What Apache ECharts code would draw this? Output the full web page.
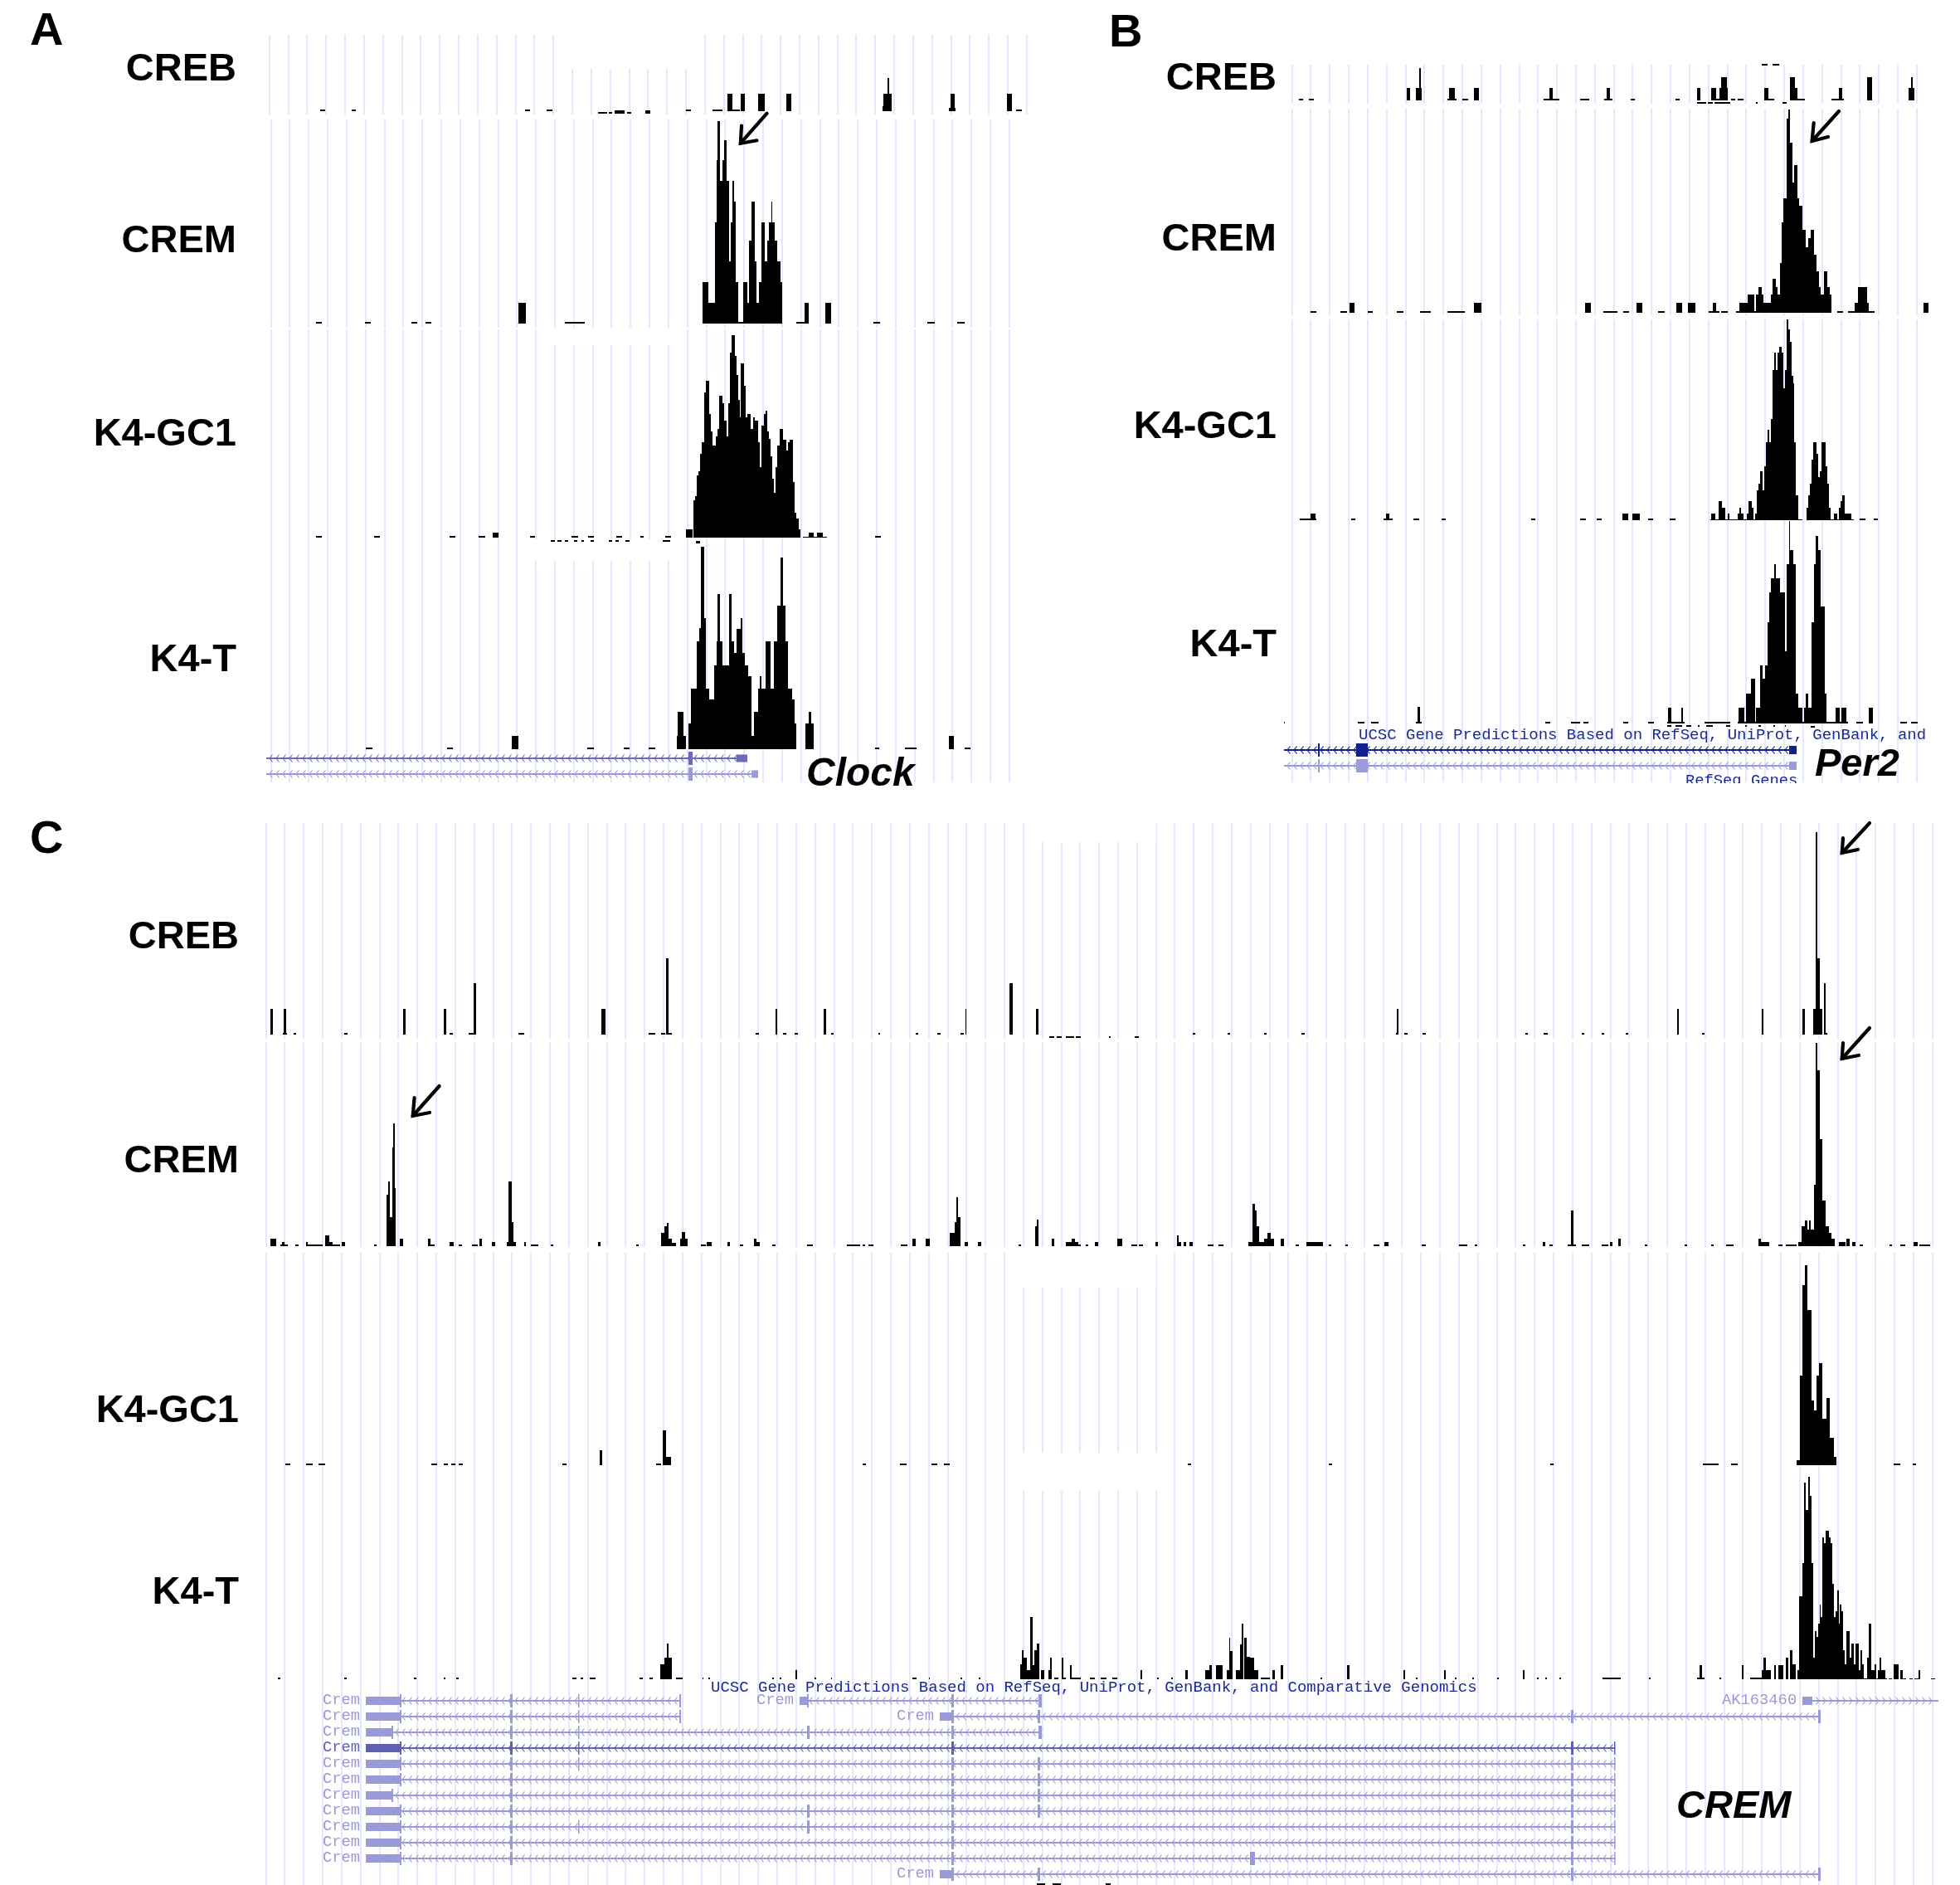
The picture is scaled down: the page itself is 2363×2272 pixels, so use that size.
<!DOCTYPE html>
<html><head><meta charset="utf-8">
<style>html,body{margin:0;padding:0;background:#fff}#c{width:2363px;height:2272px}</style>
<script src="https://cdn.jsdelivr.net/npm/echarts@6/dist/echarts.min.js"></script>
</head><body><div id="c"></div>
<script>
// Runs are [start, end, top] or [start, end, top, bottom], or [start, end] for a minimal read pile-up.
const trackNames = ['CREB','CREM','K4-GC1','K4-T'];

const A1_runs = [[140,150],[203,211],[543,553],[587,597],[860,870],[913,932],[687,705,404,412],[708,716,404,412],[720,740,400,412],[745,752,405,412],[780,790,400,412],
 [942,952,340],[952,966],[968,976,340],[1003,1016,340],[1059,1068,340],[1248,1266,385],[1250,1265,340],[1257,1260,283],[1379,1392,390],[1382,1389,340],[1493,1503,340],[1510,1522]];
const A2_runs = [[132,144],[228,240],[320,332],[348,360],[531,545,1095],[622,662],[893,1050],
 [893,904,1020],[904,917,1095],[917,921,803],[921,923,580],[923,927,438],[927,932,655],[932,936,580],[936,941,507],[941,945,655],[945,948,945],[948,952,803],[952,956,655],[956,959,730],[959,963,1020],
 [973,982,1020],[982,985,1095],[985,990,870],[990,996,730],[996,1000,945],[1000,1005,1095],[1005,1009,1020],[1009,1015,803],[1015,1020,945],[1020,1024,870],[1024,1028,803],[1028,1031,730],[1031,1035,803],[1035,1040,870],[1040,1046,945],[1046,1050,1020],
 [1078,1095],[1094,1102,1095],[1135,1147,1095],[1230,1242],[1336,1350],[1395,1410]];
const A3_left = [[133,143],[246,258],[395,407],[453,466],[480,492,425],[553,564],[635,648],[668,680],[723,735],[770,778],[820,832],[595,603,452,458],[608,616,452,458],[622,628,452,458],[640,646,452,458],[655,660,452,458],[672,680,452,458],[708,716,452,458],[722,728,452,458],[742,750,452,458],[815,830,452,458],[880,888,455,465],[1233,1245]];
const A3_peak = [[20,45,715],[48,54,610],[54,60,595],[60,67,520],[67,73,503],[73,79,440],[79,87,400],[87,93,220],[93,105,178],[105,111,298],[111,117,360],[117,129,412],[129,135,378],[135,141,350],[141,152,230],[152,160,258],[160,168,320],[168,174,378],[174,180,258],[180,186,75],[186,197,12],[197,203,88],[203,209,155],[209,215,245],[215,220,310],[220,230,115],[230,236,195],[236,242,310],[242,254,298],[254,265,350],[265,271,310],[271,283,320],[283,289,400],[289,295,490],[295,303,340],[303,309,298],[309,316,285],[316,322,360],[322,328,388],[328,334,450],[334,340,530],[340,345,583],[345,351,490],[351,361,412],[361,373,350],[373,384,390],[384,390,430],[390,396,400],[396,407,390],[407,413,543],[413,419,655],[419,430,675],[430,436,715],[443,532,742],[465,482,725],[495,517,725]];
const A4_runs = [[230,243],[390,402],[667,680],[738,750],[787,800],[518,530,1162],[842,860,1160],[845,855,1075],[866,870,1115],[870,882,990],[882,886,820],[886,890,770],[890,897,478],[897,900,735],[900,906,990],[906,916,1030],[916,921,905],[921,923,820],[923,927,648],[927,933,820],[933,945,905],[945,950,648],[950,955,820],[955,960,860],[960,968,775],[968,972,735],[972,977,860],[977,983,905],[983,989,945],[989,995,1160],[995,1003,1075],[1003,1006,990],[1006,1009,945],[1009,1017,990],[1017,1027,820],[1027,1033,990],[1033,1040,820],[1040,1047,690],[1047,1052,517],[1052,1057,690],[1057,1062,820],[1062,1070,990],[1070,1075,1030],[1075,1078,1115],[1096,1103,1115],[1103,1107,1075],[1107,1112,1115],[1233,1241],[1292,1315],[1378,1388,1162],[1410,1420]];

const B1_runs = [[50,60],[73,84],[298,305,318],[318,332,318],[325,329,245],[390,412],[395,408,318],[425,438],[452,462,318],[612,648],[625,633,318],[695,716],[750,770],[757,763,318],[812,822],[914,923],[963,972,318],[997,1008,318],[1008,1020],[1015,1035,318],[1020,1032,280],[1042,1052],[1057,1070],[1118,1128,318],[1128,1142],[1178,1188,280],[1188,1195,318],[1195,1212],[1272,1302],[1290,1297,318],[1355,1365,280],[1450,1463,318],[1455,1459,280],
 [963,985,368,374],[988,1000,368,374],[1003,1040,368,374],[1160,1170,368,374],[1100,1103,368,374],[1112,1125,232,238],[1138,1152,232,238]];
const B2_runs = [[77,90],[145,160],[207,220],[275,290],[327,352],[390,430],[748,782],[795,808],[875,890],[990,1015],[1020,1035],[1053,1272],[1285,1300],[1310,1372],
 [165,178,1095],[452,468,1095],[707,720,1095],[825,838,1095],[917,930,1095],[943,960,1095],[1000,1007,1095],[1062,1080,1095],[1080,1095,1065],[1100,1104,1065],[1104,1112,1037],[1112,1116,1065],[1116,1134,1095],[1134,1138,1065],[1138,1144,1008],[1144,1148,1037],[1148,1155,1065],[1155,1159,950],[1159,1163,805],[1163,1170,718],[1170,1173,430],[1173,1178,397],[1178,1183,515],[1183,1187,660],[1187,1195,597],[1195,1198,718],[1198,1206,745],[1206,1214,830],[1214,1220,895],[1220,1224,860],[1224,1232,830],[1232,1238,922],[1238,1244,980],[1244,1248,1037],[1248,1255,1065],[1255,1263,980],[1263,1268,1037],[1268,1272,1065],[1325,1333,1095],[1333,1355,1037],[1355,1358,1095],[1484,1496,1095]];
const B3_left = [[52,90],[77,88,357],[170,180],[243,265],[250,257,357],[313,325],[377,387],[583,593],[695,709],[733,745],[793,805,357],[815,833,357],[852,863],[902,915],[1338,1350],[1370,1380]];
const B3_peak = [[5,340,739],[353,525,739],[8,25,717],[37,47,672],[47,59,695],[69,75,717],[105,111,717],[111,116,695],[116,127,717],[138,145,717],[145,155,672],[155,162,695],[168,174,717],[174,180,632],[180,186,608],[186,196,563],[196,202,632],[202,208,545],[208,213,460],[213,219,415],[219,225,460],[225,231,375],[231,237,198],[237,243,135],[243,248,198],[248,254,135],[254,265,113],[265,271,135],[271,276,265],[276,282,198],[282,288,15],[288,294,50],[294,300,95],[300,306,220],[306,310,245],[310,316,460],[316,325,650],[353,360,695],[360,367,650],[367,373,608],[373,379,522],[379,390,460],[390,396,500],[396,402,585],[402,407,563],[407,424,460],[424,430,545],[430,436,608],[436,442,695],[453,465,717],[470,476,695],[476,482,672],[482,493,650],[493,515,717]];
const B4_runs = [[15,18],[185,200],[215,232],[318,332],[322,328,1057],[615,627],[675,695],[703,715],[795,805],[852,865],[895,935],[897,905,1058],[927,931,1058],[982,1040],[1057,1310],[1060,1072,1058],[1077,1087,1008],[1087,1097,955],[1100,1108,1058],[1108,1115,905],[1115,1120,955],[1120,1126,905],[1126,1130,750],[1130,1134,642],[1134,1141,590],[1141,1145,540],[1145,1155,590],[1155,1166,642],[1166,1170,855],[1170,1175,540],[1175,1178,385],[1178,1185,490],[1185,1190,540],[1190,1196,1008],[1196,1206,1058],[1210,1214,1058],[1214,1220,1008],[1220,1226,1058],[1226,1232,750],[1232,1236,540],[1236,1243,437],[1243,1247,490],[1247,1258,693],[1258,1262,1008],[1282,1292,1058],[1296,1306,1058],[1330,1345],[1358,1368,1058],[1430,1445],[1455,1470],
 [895,905,1122,1128],[915,930,1122,1128],[940,950,1122,1128],[965,970,1122,1128],[985,1000,1122,1128],[1030,1040,1122,1128],[1225,1235,1124,1130],[1075,1078,1122,1128],[1105,1110,1122,1128],[1140,1143,1122,1128],[1165,1168,1122,1128]];

const C1_left = [[40,45,647],[66,70,647],[65,72],[85,90],[180,186],[291,296,647],[368,373,647],[380,386],[416,425],[425,430,555],[510,520],[666,674,647],[755,768],[780,787],[789,794,465],[794,800],[958,964],[996,999,647],[1010,1016],[1032,1038],[1087,1092,647],[1100,1106],[1190,1193],[1260,1265],[1302,1307],[1345,1352],[1355,1357,647],[1438,1444,555],[1488,1493,647],[1513,1522,746,752],[1527,1537,746,752],[1545,1560,746,752],[1563,1568,746,752]];
const C1_right = [[0,5,746,752],[55,57,746,752],[100,107,746,752],[203,208],[265,270],[330,335],[397,402],[565,570],[567,569,647],[580,585],[612,618],[795,800],[828,835],[895,900],[930,935],[973,978],[1065,1068,647],[1109,1114],[1215,1219,647],[1288,1292,647],[1307,1323,647],[1311,1314,8],[1314,1318,465],[1326,1329,555],[1329,1332]];
const C2_left = [[40,52,1480],[60,73],[62,68,1490],[88,94],[108,140],[108,112,1490],[145,152,1468],[152,158,1490],[158,172],[176,182,1490],[237,242],[260,263,1320],[263,266,1273],[266,272,1400],[272,273,1150],[273,276,1063],[276,278,1297],[285,291,1480],[338,344,1480],[344,352],[380,387,1490],[397,403],[422,432],[436,440,1480],[460,465,1490],[487,505,1490],[490,497,1273],[497,500,1420],[520,524,1490],[533,547],[570,575],[660,665,1490],[732,737],[780,785,1457],[785,790,1435],[790,793,1423],[793,800,1480],[800,808,1495],[815,819,1480],[819,824,1455],[824,830,1480],[855,864],[865,875,1490],[905,910,1490],[928,934],[955,960,1480],[960,966,1490],[990,995],[1055,1066],[1131,1155],[1160,1165],[1172,1181],[1233,1245],[1255,1260,1480],[1280,1287,1480],[1325,1335,1457],[1335,1338,1420],[1338,1341,1330],[1341,1345,1400],[1353,1359,1490],[1378,1384,1490],[1455,1460],[1486,1489,1435],[1489,1492,1410],[1518,1523,1480],[1545,1568,1490],[1555,1562,1480]];
const C2_right = [[0,5],[13,18],[30,36,1490],[70,78,1480],[95,105],[108,115],[137,141,1490],[175,178,1468],[178,183,1490],[187,192,1490],[197,203,1490],[230,240],[250,258],[303,310,1490],[310,314,1353],[314,317,1378],[317,322,1435],[322,330,1490],[330,336,1480],[336,342,1457],[342,348,1480],[360,366,1480],[387,393],[405,417,1490],[417,435,1490],[445,450],[475,480],[525,535],[545,552,1490],[610,618],[677,692],[705,710],[790,795],[826,830,1490],[838,844],[870,885],[876,880,1376],[895,908],[930,942],[945,950,1490],[960,965,1480],[1008,1012],[1078,1083],[1125,1130],[1152,1165],[1210,1214,1480],[1214,1228,1490],[1245,1252],[1258,1278],[1280,1286,1490],[1286,1292,1435],[1292,1296,1412],[1296,1300,1445],[1300,1303,1412],[1303,1308,1445],[1308,1311,1285],[1311,1314,772],[1314,1318,870],[1318,1323,1120],[1323,1329,1342],[1329,1335,1435],[1335,1340,1457],[1340,1345,1480],[1353,1358,1490],[1358,1364,1490],[1366,1372,1480],[1376,1382,1490],[1390,1396],[1442,1447],[1462,1470],[1485,1492,1490],[1495,1515]];
const C3_runs = [[228,232],[245,250],[255,260],[345,350],[355,358],[361,364],[367,370],[450,453],[480,482,1160],[525,529],[530,533,1144],[533,537,1165],[690,693],[720,725],[745,750],[755,760],[950,953],[1063,1066],[1240,1243],[1362,1375],[1385,1390],[1437,1440,1168],[1440,1442,1100],[1442,1444,1028],[1444,1446,1012],[1446,1449,1048],[1449,1451,1120],[1451,1453,1128],[1453,1455,1100],[1455,1458,1090],[1458,1461,1135],[1461,1464,1118],[1464,1467,1150],[1467,1469,1165],[1515,1520],[1530,1533]];
const C4_left = [[55,60],[180,185],[312,317],[368,372],[392,396],[612,620],[627,632],[645,655],[738,745],[757,763],[778,785,678],[785,790,655],[790,794,603],[794,800,655],[808,820],[857,860],[868,872],[990,993],[1003,1006],[1033,1037,700],[1070,1073],[1100,1103],[1255,1262],[1285,1288],[1345,1348],[1380,1383],[1458,1462,678],[1462,1465,628],[1465,1470,655],[1470,1477,700],[1477,1481,508],[1481,1485,680],[1485,1490,628],[1490,1494,604],[1497,1503,700],[1512,1518,700],[1515,1518,655],[1523,1530],[1537,1540,655],[1540,1545],[1552,1555,680],[1555,1568,725],[1490,1505,1470,1476],[1520,1535,1470,1476]];
const C4_right = [[0,5],[20,30],[40,50],[60,70],[110,114,700],[140,143],[165,168],[190,194,700],[225,238,700],[233,238,680],[245,255,680],[250,256,680],[264,268,700],[268,270,582],[270,275,630],[280,287,700],[287,291,605],[291,293,530],[295,300,582],[300,305,650],[305,312,655],[312,320,700],[325,340],[345,350,700],[360,364,680],[430,433],[478,482,680],[578,581,700],[600,603],[650,654,700],[670,673],[700,703],[745,748],[790,794,700],[815,818],[830,833],[855,858],[932,965],[1015,1018],[1105,1109,680],[1100,1113],[1140,1143],[1180,1183,680],[1195,1215],[1215,1218,700],[1218,1223,655],[1223,1232,700],[1237,1241,680],[1245,1254,680],[1258,1262,655],[1266,1270,628],[48,58,1470,1476]];
const C4_peak = [[0,15,678],[22,27,700],[27,39,433],[39,45,313],[45,50,22],[50,60,120],[60,66,0],[66,72,70],[72,78,313],[78,84,655],[84,90,558],[90,96,580],[96,102,530],[102,106,462],[106,112,508],[112,118,218],[118,123,240],[123,134,195],[134,140,218],[140,146,240],[146,152,388],[152,158,508],[158,164,485],[164,170,410],[170,175,530],[175,181,462],[181,187,485],[187,192,628],[192,198,678],[198,209,558],[209,215,655],[215,226,604],[226,231,678],[231,243,604],[243,248,700],[248,254,628],[254,260,678],[260,272,728],[272,278,655],[278,289,530],[289,301,700],[301,306,678],[306,312,728],[312,318,700],[318,323,655],[323,340,700],[340,346,728],[350,362,728],[369,386,678],[392,403,700],[403,414,728],[427,437,728],[445,460,728],[460,466,700],[505,518,728]];

// Gene models: row, start, end, strand, exons as [start, end, height]
const mid = 6, tall = 16;
const clockGenes = [
 {row:913,from:321,to:900,dir:-1,color:'#6a6ab8',exons:[[830,835,tall],[888,901,mid+3]]},
 {row:932,from:321,to:914,dir:-1,color:'#9a9ad8',exons:[[830,835,tall],[906,914,mid+3]]}];
const per2Genes = [
 {row:903,from:1548,to:2166,dir:-1,color:'#10208c',exons:[[1589,1591,tall],[1635,1649,tall],[2157,2166,10]]},
 {row:922,from:1548,to:2166,dir:-1,color:'#9a9cdc',exons:[[1589,1591,tall],[1635,1649,tall],[2157,2166,10]]}];
const LONG = 1947.5, SHORT = 2193.5;
const cremColor = '#9a9ad8', cremDark = '#6060b0';
const e = (a,w) => [a, a+(w||3), tall];
const head = [[441,482,10],[482,484,tall]], headShort = [[441,472,10],[472,474,tall]];
const cremGenes = [
 {row:2049,from:441,to:820,dir:-1,color:cremColor,label:['Crem',389],exons:[...head,e(615),e(697,1.5),e(819,2)]},
 {row:2049,from:964,to:1256,dir:-1,color:cremColor,label:['Crem',912],exons:[[964,974,10],[973,975,tall],e(1147),e(1252,4)]},
 {row:2049,from:2173,to:2337,dir:1,color:cremColor,label:['AK163460',2076],exons:[[2173,2185,10]]},
 {row:2068,from:441,to:820,dir:-1,color:cremColor,label:['Crem',389],exons:[...head,e(615),e(697,1.5),e(819,2)]},
 {row:2068,from:1133,to:SHORT,dir:-1,color:cremColor,label:['Crem',1081],exons:[[1133,1148,10],e(1147),e(1251),e(1894),e(2192,3)]},
 {row:2087,from:441,to:1256,dir:-1,color:cremColor,label:['Crem',389],exons:[...headShort,e(615),e(697,1.5),e(973),e(1147),e(1252,4)]},
 {row:2106,from:441,to:LONG,dir:-1,color:cremDark,label:['Crem',389],exons:[...head,e(615),e(697,1.5),e(1147),e(1894),e(1946,1.5)]},
 {row:2125,from:441,to:LONG,dir:-1,color:cremColor,label:['Crem',389],exons:[...head,e(615),e(697,1.5),e(1147),e(1251),e(1894),e(1946,1.5)]},
 {row:2144,from:441,to:LONG,dir:-1,color:cremColor,label:['Crem',389],exons:[...head,e(615),e(1147),e(1251),e(1894),e(1946,1.5)]},
 {row:2163,from:441,to:LONG,dir:-1,color:cremColor,label:['Crem',389],exons:[...headShort,e(615),e(1147),e(1251),e(1894),e(1946,1.5)]},
 {row:2182,from:441,to:LONG,dir:-1,color:cremColor,label:['Crem',389],exons:[...head,e(615),e(973),e(1147),e(1251),e(1894),e(1946,1.5)]},
 {row:2201,from:441,to:LONG,dir:-1,color:cremColor,label:['Crem',389],exons:[...head,e(615),e(697,1.5),e(973),e(1147),e(1894),e(1946,1.5)]},
 {row:2220,from:441,to:LONG,dir:-1,color:cremColor,label:['Crem',389],exons:[...head,e(615),e(1147),e(1894),e(1946,1.5)]},
 {row:2239,from:441,to:LONG,dir:-1,color:cremColor,label:['Crem',389],exons:[...head,e(615),e(1147),[1507,1513,tall],e(1894),e(1946,1.5)]},
 {row:2258,from:1133,to:SHORT,dir:-1,color:cremColor,label:['Crem',1081],exons:[[1133,1148,10],e(1147),e(1251),e(1894),e(2192,3)]}];

// Crops the values were read in
const crop = (x0,y0,kx,ky) => ({x0,y0,kx,ky});
const Z1=crop(300,0,1.633,3), Z2=crop(300,500,1.633,3), Z3=crop(1540,0,1.905,3), Z4=crop(1540,500,1.905,3),
      Z5=crop(300,1000,1.568,3), Z6=crop(1300,1000,1.475,3), Z7=crop(300,1780,1.568,3), Z8=crop(1300,1780,1.475,3),
      Z9=crop(820,400,3,3), Z10=crop(2060,380,3,3), Z11=crop(2160,1780,3,3), P=crop(0,0,1/1.507,1/1.507);

const GUIDE = 22.83;
const tracks = [
 {g:[324.5,40,42,138],  base:134.3, parts:[[A1_runs,Z1]]},
 {g:[326.3,39,144,395], base:390,   parts:[[A2_runs,Z1]]},
 {g:[326.3,39,397,656], base:648.3, parts:[[A3_left,Z2],[A3_peak,Z9]]},
 {g:[326.3,39,656,943], base:903.3, parts:[[A4_runs,Z2]]},
 {g:[1557.3,33,78,125],  base:120.7, parts:[[B1_runs,Z3]]},
 {g:[1557.3,33,131,380], base:376.7, parts:[[B2_runs,Z3]]},
 {g:[1557.3,33,385,633], base:627,   parts:[[B3_left,Z4],[B3_peak,Z10]]},
 {g:[1557.3,33,633,943], base:872.3, parts:[[B4_runs,Z4]]},
 {g:[320.4,88,992,1252],  base:1247.3, parts:[[C1_left,Z5],[C1_right,Z6]]},
 {g:[320.4,88,1256,1503], base:1502.3, parts:[[C2_left,Z5],[C2_right,Z6]]},
 {g:[320.4,88,1510,1780], base:1766,   parts:[[C3_runs,P]]},
 {g:[320.4,88,1780,2272], base:2024.3, parts:[[C4_left,Z7],[C4_right,Z8],[C4_peak,Z11]]}
];
const masks = [[677,839,42,83],[655,817,397,416],[640,820,650,676],[1240,1393,992,1015],[1218,1393,1510,1552],[1218,1394,1751,1797]];
const arrows = [
 [[924.6,136.7],[892.8,172.7],[894,151.7],[912.4,169.3]],
 [[2217,134],[2184.6,170],[2186.7,148],[2204,165]],
 [[529.6,1309],[497.7,1345],[499.6,1323],[518,1341]],
 [[2254,992],[2220.7,1028],[2222,1010],[2240,1024]],
 [[2254,1239],[2220.7,1276],[2222,1257],[2241,1272]]];

const grid=[], xAxis=[], yAxis=[], series=[];
const rectItem = (params, api) => {
  const p1 = api.coord([api.value(0), api.value(2)]), p2 = api.coord([api.value(1), api.value(3)]);
  const x = Math.round(Math.min(p1[0],p2[0])), r = Math.round(Math.max(p1[0],p2[0]));
  const y = Math.round(Math.min(p1[1],p2[1])), b = Math.round(Math.max(p1[1],p2[1]));
  return {type:'rect', shape:{x, y, width:Math.max(1,r-x), height:Math.max(1,b-y)}, style:{fill:api.style().fill}, silent:true};
};
tracks.forEach((t,i) => {
  const [gx,n,top,bottom] = t.g;
  grid.push({left:gx, top, width:n*GUIDE, height:bottom-top, containLabel:false});
  xAxis.push({type:'value', gridIndex:i, min:0, max:n, interval:1, axisLine:{show:false}, axisTick:{show:false}, axisLabel:{show:false},
    splitLine:{show:true, lineStyle:{color:'#e6e6ff', width:2}}});
  yAxis.push({type:'value', gridIndex:i, min:t.base-bottom, max:t.base-top, axisLine:{show:false}, axisTick:{show:false}, axisLabel:{show:false}, splitLine:{show:false}});
  const data = [];
  t.parts.forEach(([runs,c]) => runs.forEach(r => {
    const X = z => (c.x0 + z/c.kx - gx)/GUIDE, Y = z => t.base - (c.y0 + z/c.ky);
    data.push([X(r[0]), X(r[1]), r.length>2 ? Y(r[2]) : 2, r.length>3 ? Y(r[3]) : 0]);
  }));
  series.push({type:'custom', name:trackNames[i%4], xAxisIndex:i, yAxisIndex:i, z:4, silent:true, animation:false, clip:false,
    itemStyle:{color:'#000'}, renderItem:rectItem, encode:{x:[0,1],y:[2,3]}, data});
});
// page-wide axes for annotations and gene models
const PG = tracks.length;
grid.push({left:0, top:0, width:2363, height:2272});
xAxis.push({type:'value', gridIndex:PG, min:0, max:2363, show:false});
yAxis.push({type:'value', gridIndex:PG, min:0, max:2272, inverse:true, show:false});
series.push({type:'custom', xAxisIndex:PG, yAxisIndex:PG, z:2, silent:true, animation:false, clip:false, itemStyle:{color:'#fff'},
  renderItem:(params,api)=>{
    const a=api.coord([api.value(0),api.value(2)]), b=api.coord([api.value(1),api.value(3)]);
    return {type:'rect',shape:{x:a[0]-1,y:a[1],width:b[0]-a[0]+2,height:b[1]-a[1]},style:{fill:'#fff'}};
  }, data:masks});
const allGenes = [...clockGenes,...per2Genes,...cremGenes];
series.push({type:'custom', xAxisIndex:PG, yAxisIndex:PG, z:3, silent:true, animation:false, clip:false,
  renderItem:(params,api)=>{
    const g = allGenes[params.dataIndex];
    const [x1,y0] = api.coord([g.from,g.row]), [x2] = api.coord([g.to,g.row]);
    const y = y0+1;
    const kids = [{type:'rect',shape:{x:x1,y:y-1,width:x2-x1,height:2},style:{fill:g.color}}];
    for (let x=x1+4; x<x2-2; x+=8) {
      const d = g.dir<0 ? 3.5 : -3.5;
      kids.push({type:'polyline',shape:{points:[[x+d,y-4.5],[x,y],[x+d,y+4.5]]},style:{stroke:g.color,lineWidth:1.1,fill:null}});
    }
    g.exons.forEach(([a,b,h])=>{
      const xa=api.coord([a,g.row])[0], xb=api.coord([b,g.row])[0];
      kids.push({type:'rect',shape:{x:xa,y:y-h/2,width:xb-xa,height:h},style:{fill:g.color}});
    });
    if (g.label) kids.push({type:'text',x:api.coord([g.label[1],g.row])[0],y:y-1,
      style:{text:g.label[0],font:'18.8px "Liberation Mono", monospace',fill:g.color,align:'left',verticalAlign:'middle',textAlign:'left',textVerticalAlign:'middle'}});
    return {type:'group',children:kids};
  }, data:allGenes.map(g=>[g.from,g.row])});
series.push({type:'custom', xAxisIndex:PG, yAxisIndex:PG, z:5, silent:true, animation:false, clip:false,
  renderItem:(params,api)=>{
    const [tail,tip,b1,b2] = arrows[params.dataIndex].map(p=>api.coord(p));
    const st={stroke:'#000',lineWidth:4.2,lineCap:'round',lineJoin:'miter',fill:null};
    return {type:'group',children:[
      {type:'line',shape:{x1:tail[0],y1:tail[1],x2:tip[0],y2:tip[1]},style:st},
      {type:'polyline',shape:{points:[b1,tip,b2]},style:st}]};
  }, data:arrows.map(a=>a[0])});

const bold = s => `bold ${s}px "Liberation Sans", Arial, sans-serif`;
const label = (text,x,y,align,font,extra) => ({type:'text',x,y,z:10,silent:true,...(extra||{}),
  style:{text,font,fill:'#000',align,verticalAlign:'middle',textAlign:align,textVerticalAlign:'middle'}});
const labelRows = [
 [285,[84,291,524,796]],
 [1539,[95,289,515,778]],
 [288,[1130,1400,1701,1920]]];
const graphic = [
 label('A',36,39,'left',bold(56)), label('B',1337,41,'left',bold(56)), label('C',36,1013,'left',bold(56)),
 label('Clock',972,934,'left','italic '+bold(48)), label('Per2',2188,922,'left','italic '+bold(47)), label('CREM',2021,2178,'left','italic '+bold(47))];
labelRows.forEach(([x,ys])=>ys.forEach((y,i)=>graphic.push(label(trackNames[i],x,y,'right',bold(47)))));
const blue = (text,x,y,size) => ({type:'text',x,y,z:8,silent:true,
  style:{text,font:(size||19)+'px "Liberation Mono", monospace',fill:'#1a2a98',align:'left',verticalAlign:'middle',textAlign:'left',textVerticalAlign:'middle'}});
graphic.push(blue('UCSC Gene Predictions Based on RefSeq, UniProt, GenBank, and',1638,886));
graphic.push(blue('UCSC Gene Predictions Based on RefSeq, UniProt, GenBank, and Comparative Genomics',857,2034));
graphic.push(blue('RefSeq Genes',2032,941,18.8));
graphic.push({type:'rect',z:9,silent:true,shape:{x:2028,y:944,width:145,height:12},style:{fill:'#fff'}});

const chart = echarts.init(document.getElementById('c'),null,{renderer:'canvas'});
chart.setOption({animation:false, backgroundColor:'#fff', tooltip:{show:false}, legend:{show:false}, grid, xAxis, yAxis, series, graphic});
</script></body></html>
